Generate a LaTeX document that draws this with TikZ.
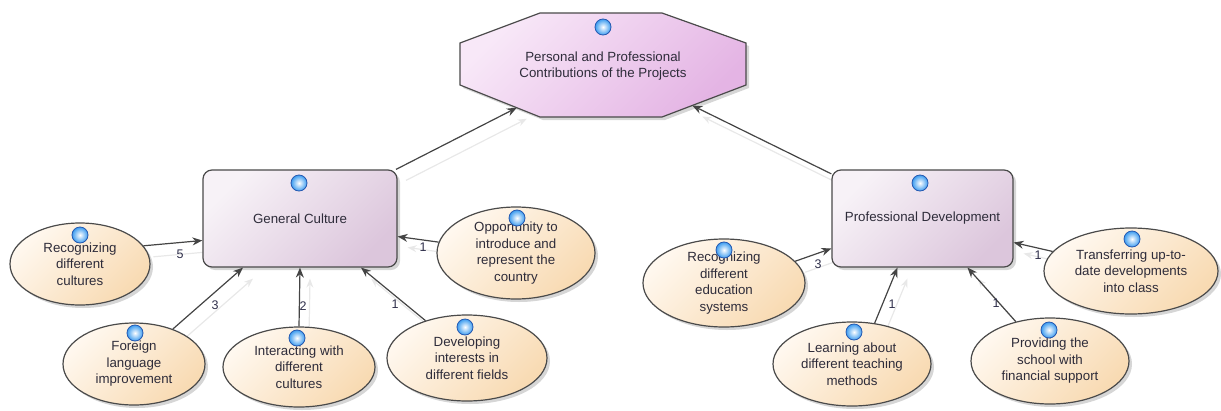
\documentclass[tikz,border=0pt]{standalone}
\usepackage{fontspec}
\setmainfont{Liberation Sans}
\usetikzlibrary{shapes.geometric,arrows.meta,shadows,backgrounds,calc}
\definecolor{txtc}{HTML}{2E2C3A}
\definecolor{numc}{HTML}{2E2E4A}
\definecolor{edgec}{HTML}{4A4A4A}
\definecolor{linec}{HTML}{444444}
\definecolor{ellA}{HTML}{FFF8EF}
\definecolor{ellB}{HTML}{F8DAB2}
\definecolor{boxA}{HTML}{F7F2F7}
\definecolor{boxB}{HTML}{DCC6DC}
\definecolor{octA}{HTML}{F8E8F8}
\definecolor{octB}{HTML}{E4B4E4}
\definecolor{beadc}{HTML}{3C9CF0}
\definecolor{beadline}{HTML}{2458B0}
\begin{document}
\begin{tikzpicture}[x=1pt,y=-1pt,
  txt/.style={font=\fontsize{13.3}{16.5}\selectfont, text=txtc, align=center},
  shad/.style={drop shadow={shadow xshift=3pt, shadow yshift=-3pt, fill=black, opacity=0.16}},
  idea/.style={ellipse, draw=edgec, line width=1.2pt, top color=ellA, bottom color=ellB, shading angle=45, inner sep=0pt, txt, shad},
  concept/.style={rectangle, rounded corners=9pt, draw=edgec, line width=1.2pt, top color=boxA, bottom color=boxB, shading angle=45, inner sep=0pt, txt, shad, minimum height=97pt},
  link/.style={draw=linec, line width=1.2pt, -{Stealth[length=10pt,width=8pt]}},
  ghost/.style={draw=black!9, line width=1.2pt, -{Stealth[length=9pt,width=7pt]}, transform canvas={xshift=10pt,yshift=-11pt}},
  num/.style={font=\fontsize{12.5}{14}\selectfont, text=numc, inner sep=0pt},
  bead/.style={circle, minimum size=16pt, inner sep=0pt, inner color=white, outer color=beadc, draw=beadline, line width=0.8pt}
]
\useasboundingbox (0,0) rectangle (1221,410);

% top octagon
\coordinate (o1) at (540,13);
\coordinate (o2) at (662,13);
\coordinate (o3) at (746,43);
\coordinate (o4) at (746,85);
\coordinate (o5) at (662,117);
\coordinate (o6) at (540,117);
\coordinate (o7) at (460,85);
\coordinate (o8) at (460,43);
\path[shad, draw=edgec, line width=1.2pt, top color=octA, bottom color=octB, shading angle=45]
  (o1) -- (o2) -- (o3) -- (o4) -- (o5) -- (o6) -- (o7) -- (o8) -- cycle;
\node[txt] (top) at (603,66) {Personal and Professional\\Contributions of the Projects};
\coordinate (topL) at ($(o7)!0.71!(o6)$);
\coordinate (topR) at ($(o4)!0.64!(o5)$);

% concept boxes
\node[concept, minimum width=194pt] (GC) at (300,218.5) {General Culture};
\node[concept, minimum width=181pt] (PD) at (922.5,218.5) {Professional Development};

% ideas
\node[idea, minimum width=140pt, minimum height=82pt] (RC) at (80,264) {Recognizing\\different\\cultures};
\node[idea, minimum width=142pt, minimum height=82pt] (FL) at (134,364) {Foreign\\language\\improvement};
\node[idea, minimum width=152pt, minimum height=80pt] (IC) at (299,367) {Interacting with\\different\\cultures};
\node[idea, minimum width=158pt, minimum height=92pt] (OP) at (516,253) {Opportunity to\\introduce and\\represent the\\country};
\node[idea, minimum width=160pt, minimum height=86pt] (DI) at (467,358) {Developing\\interests in\\different fields};
\node[idea, minimum width=162pt, minimum height=88pt] (RE) at (724,283) {Recognizing\\different\\education\\systems};
\node[idea, minimum width=158pt, minimum height=84pt] (LT) at (852,364) {Learning about\\different teaching\\methods};
\node[idea, minimum width=158pt, minimum height=86pt] (PS) at (1050,361) {Providing the\\school with\\financial support};
\node[idea, minimum width=174pt, minimum height=86pt] (TU) at (1131,271) {Transferring up-to-\\date developments\\into class};

% ghost (shadow) connectors
\begin{scope}[on background layer]
\draw[ghost] (GC) -- (topL);
\draw[ghost] (PD) -- (topR);
\draw[ghost] (RC.16) -- ([yshift=-22pt]GC.west);
\draw[ghost] (FL.42) -- ([xshift=-57pt]GC.south);
\draw[ghost] (IC.90) -- (GC.south);
\draw[ghost] (DI.138) -- ([xshift=61pt]GC.south);
\draw[ghost] (OP.172) -- ([yshift=-18pt]GC.east);
\draw[ghost] (RE.17) -- ([yshift=-30pt]PD.west);
\draw[ghost] (LT.61) -- ([xshift=-25pt]PD.south);
\draw[ghost] (PS.131) -- ([xshift=45pt]PD.south);
\draw[ghost] (TU.166) -- ([yshift=-24pt]PD.east);
\end{scope}

% connectors
\draw[link] (GC) -- (topL);
\draw[link] (PD) -- (topR);
\draw[link] (RC.16) -- ([yshift=-22pt]GC.west);
\draw[link] (FL.42) -- ([xshift=-57pt]GC.south);
\draw[link] (IC.90) -- (GC.south);
\draw[link] (DI.138) -- ([xshift=61pt]GC.south);
\draw[link] (OP.172) -- ([yshift=-18pt]GC.east);
\draw[link] (RE.17) -- ([yshift=-30pt]PD.west);
\draw[link] (LT.61) -- ([xshift=-25pt]PD.south);
\draw[link] (PS.131) -- ([xshift=45pt]PD.south);
\draw[link] (TU.166) -- ([yshift=-24pt]PD.east);

% weights
\node[num] (n1) at (180,254) {5};
\node[num] (n2) at (215,305) {3};
\node[num] (n3) at (303,306) {2};
\node[num] (n4) at (395,304) {1};
\node[num] (n5) at (423,247) {1};
\node[num] (n6) at (818,264) {3};
\node[num] (n7) at (892,304) {1};
\node[num] (n8) at (996,303) {1};
\node[num] (n9) at (1038,255) {1};

% beads
\node[bead] (b0) at (603,27) {};
\node[bead] (b1) at (299,183) {};
\node[bead] (b2) at (920,183) {};
\node[bead] (b3) at (80,235) {};
\node[bead] (b4) at (135,333) {};
\node[bead] (b5) at (297,338) {};
\node[bead] (b6) at (517,218) {};
\node[bead] (b7) at (465,327) {};
\node[bead] (b8) at (724,250) {};
\node[bead] (b9) at (854,332) {};
\node[bead] (b10) at (1049,330) {};
\node[bead] (b11) at (1132,239) {};
\end{tikzpicture}
\end{document}
